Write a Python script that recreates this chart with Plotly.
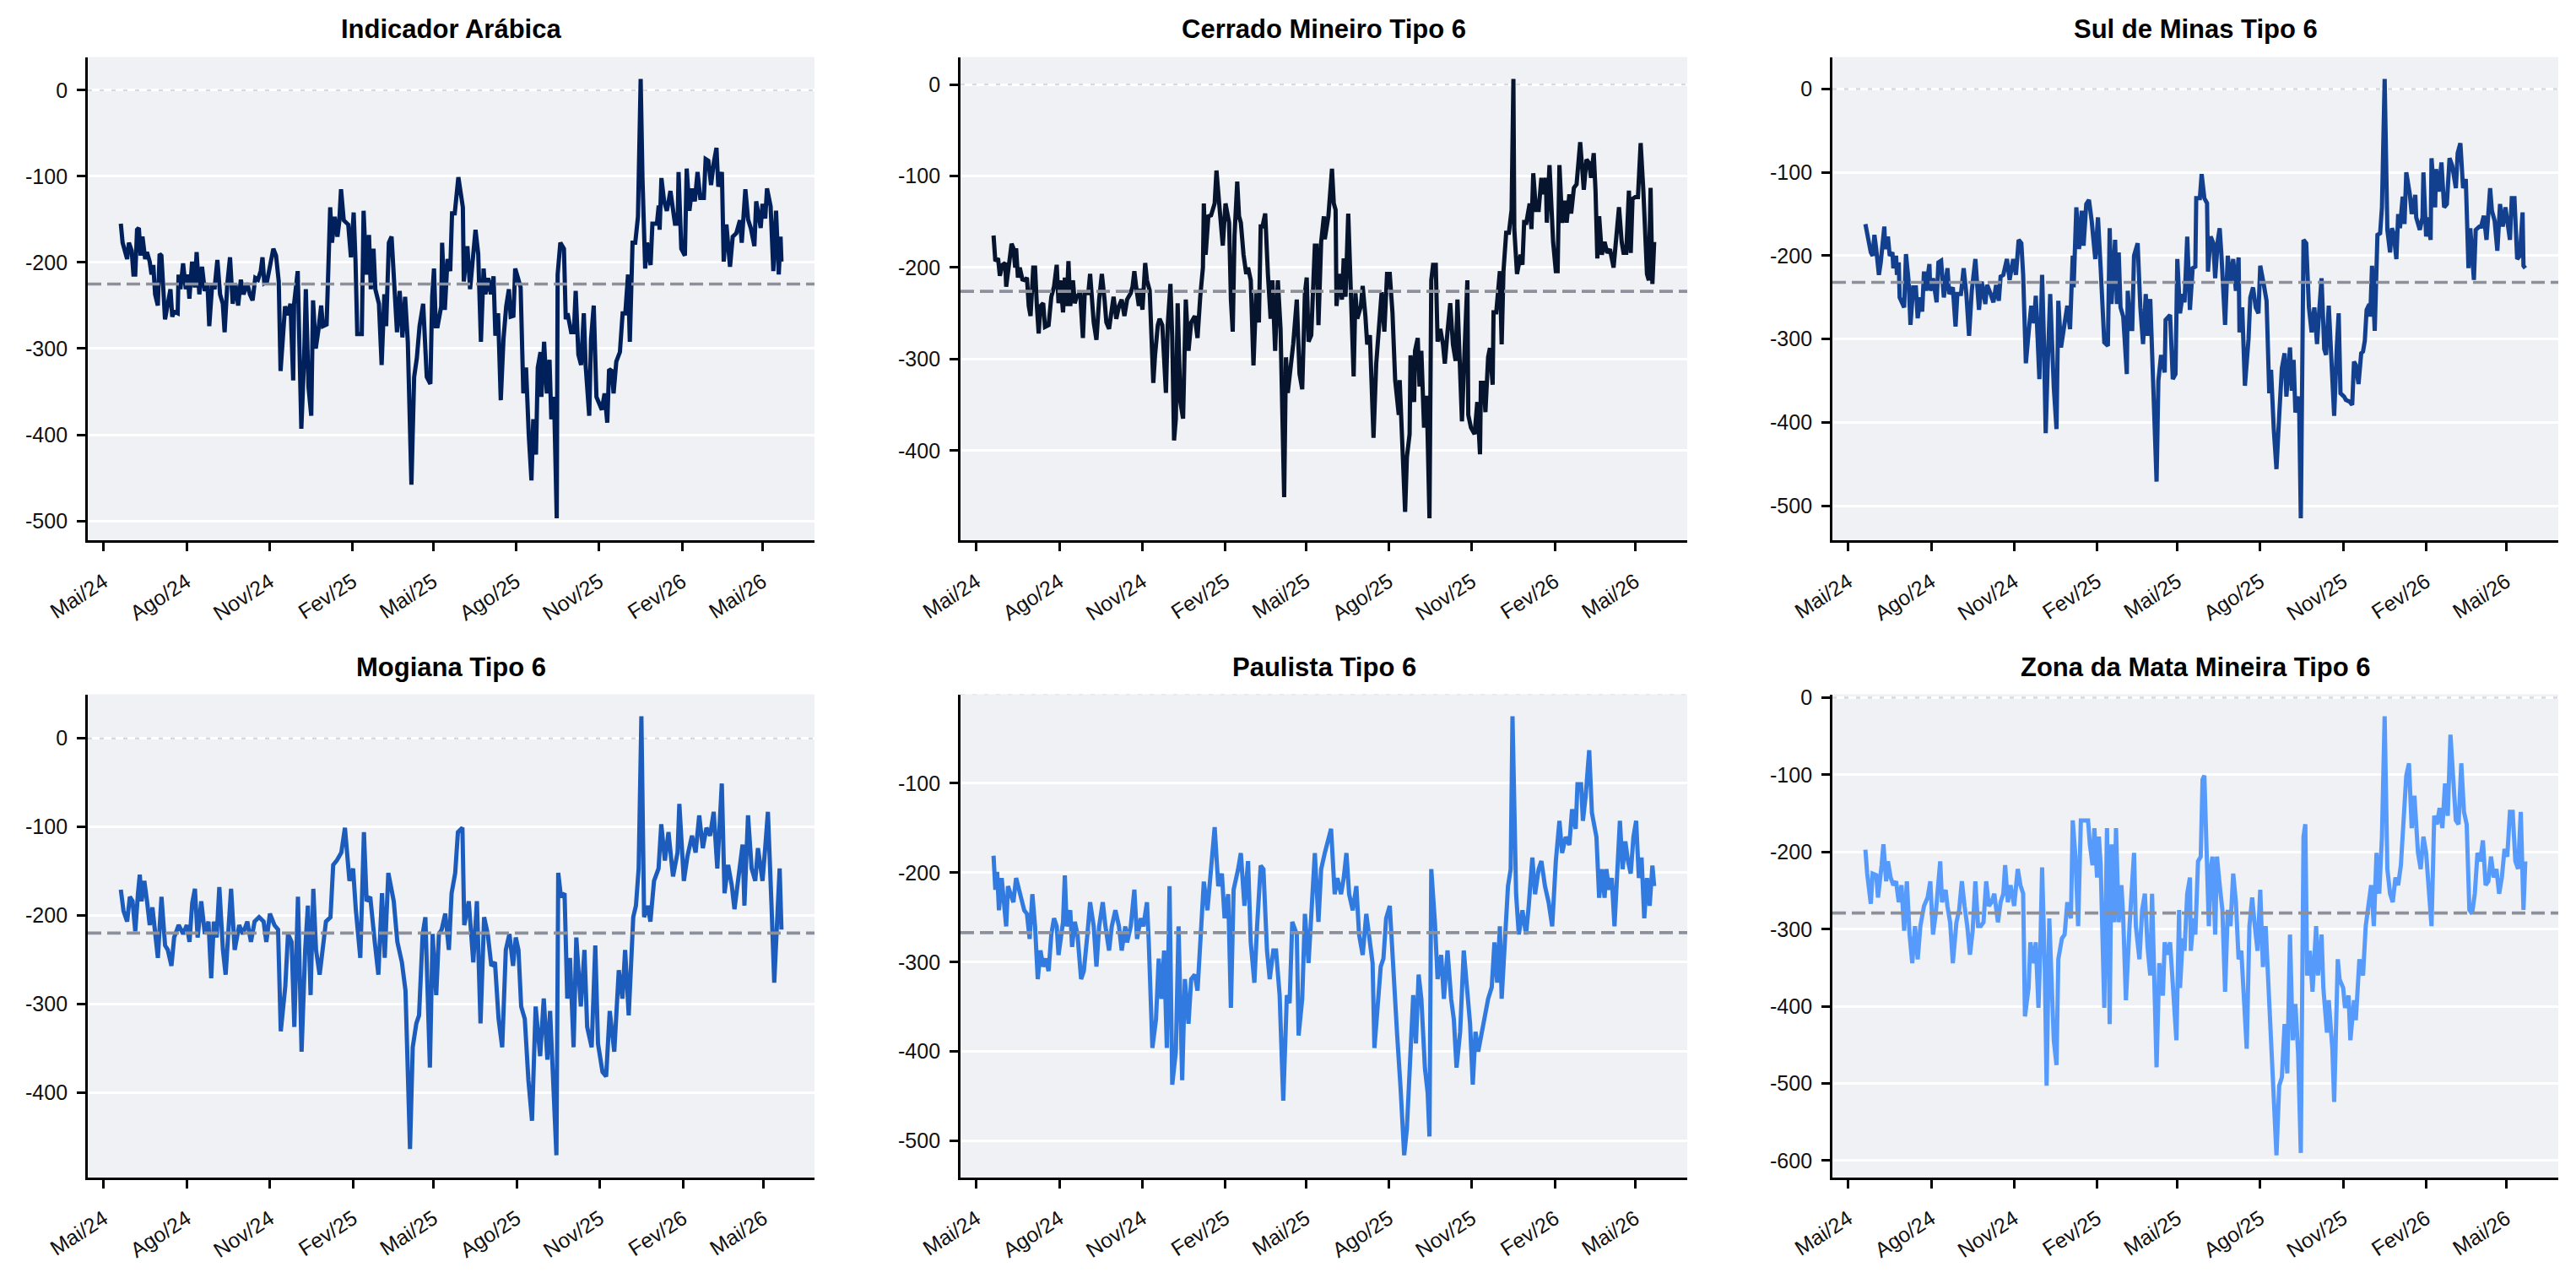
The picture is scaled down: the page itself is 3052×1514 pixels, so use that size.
import pandas as pd
import plotly.graph_objects as go

# ---------------- data ----------------
DATA_INICIO = "2024-05-20"   # first observation; series below are (days after start, value)

TITULOS = ["Indicador Arábica", "Cerrado Mineiro Tipo 6", "Sul de Minas Tipo 6",
           "Mogiana Tipo 6", "Paulista Tipo 6", "Zona da Mata Mineira Tipo 6"]
CORES = ["#00205b", "#06152d", "#12408f", "#1c5cbd", "#317adf", "#569bfb"]
MEDIAS = [-225, -226, -232, -220, -267, -279]

TICKS_X_DATAS = ["2024-05-01", "2024-08-01", "2024-11-01", "2025-02-01", "2025-05-01",
                 "2025-08-01", "2025-11-01", "2026-02-01", "2026-05-01"]
TICKS_X_ROTULOS = ["Mai/24", "Ago/24", "Nov/24", "Fev/25", "Mai/25",
                   "Ago/25", "Nov/25", "Fev/26", "Mai/26"]

INDICADOR_ARABICA = [
    (0, -155), (2, -177), (7, -196), (9, -177), (12, -186), (14, -214), (16, -214), (18, -162), (20, -160),
    (22, -192), (24, -170), (27, -196), (29, -188), (32, -199), (34, -214), (36, -203), (38, -237), (41, -250),
    (43, -190), (45, -192), (49, -266), (52, -251), (55, -231), (57, -263), (59, -257), (63, -259), (64, -214),
    (66, -231), (69, -201), (72, -231), (74, -214), (76, -242), (79, -199), (82, -229), (84, -188), (87, -237),
    (90, -205), (93, -233), (96, -224), (98, -274), (101, -229), (104, -229), (107, -197), (110, -237),
    (113, -248), (115, -281), (118, -225), (121, -194), (124, -248), (127, -225), (130, -250), (133, -220),
    (136, -237), (140, -224), (143, -237), (146, -244), (149, -218), (152, -220), (155, -210), (157, -194),
    (159, -224), (162, -222), (165, -203), (167, -192), (169, -184), (172, -192), (175, -222), (177, -326),
    (180, -289), (182, -251), (185, -261), (188, -248), (191, -337), (192, -248), (196, -210), (197, -270),
    (200, -393), (203, -315), (205, -231), (208, -345), (211, -378), (213, -244), (216, -300), (219, -278),
    (222, -250), (224, -274), (228, -272), (230, -205), (232, -136), (234, -177), (237, -147), (240, -170),
    (242, -153), (244, -115), (247, -151), (252, -156), (255, -194), (258, -142), (260, -196), (262, -283),
    (267, -283), (269, -140), (272, -214), (275, -168), (277, -231), (280, -184), (282, -231), (286, -248),
    (289, -319), (292, -237), (294, -274), (297, -177), (300, -170), (302, -207), (306, -281), (309, -233),
    (312, -287), (315, -240), (318, -292), (322, -458), (325, -333), (328, -311), (331, -274), (335, -248),
    (339, -333), (343, -341), (345, -240), (347, -207), (349, -274), (351, -274), (355, -251), (356, -177),
    (359, -255), (362, -196), (365, -210), (367, -143), (370, -143), (374, -101), (377, -125), (379, -136),
    (380, -222), (384, -181), (387, -231), (390, -190), (393, -162), (396, -190), (399, -292), (402, -207),
    (404, -237), (407, -218), (410, -237), (413, -216), (415, -285), (418, -259), (421, -360), (424, -289),
    (427, -251), (430, -231), (432, -263), (435, -262), (437, -207), (440, -218), (443, -229), (446, -352),
    (449, -322), (452, -400), (455, -453), (457, -382), (460, -423), (462, -322), (465, -304), (466, -356),
    (469, -292), (472, -352), (475, -313), (477, -382), (480, -356), (483, -497), (484, -214), (487, -177),
    (491, -184), (493, -266), (495, -259), (499, -281), (502, -281), (504, -233), (507, -307), (510, -319),
    (513, -259), (515, -319), (519, -378), (521, -289), (524, -250), (527, -356), (530, -363), (533, -371),
    (536, -352), (539, -386), (541, -324), (544, -326), (546, -352), (549, -315), (553, -304), (556, -259),
    (559, -259), (562, -214), (564, -292), (567, -177), (570, -177), (573, -147), (576, 13), (578, -102),
    (581, -207), (583, -177), (587, -203), (589, -155), (594, -155), (596, -134), (597, -162), (599, -102),
    (602, -129), (605, -140), (609, -117), (614, -155), (617, -155), (618, -95), (621, -184), (625, -192),
    (627, -91), (630, -140), (633, -114), (636, -129), (639, -95), (642, -125), (646, -125), (648, -80),
    (651, -82), (654, -110), (657, -84), (660, -67), (662, -112), (666, -95), (668, -199), (671, -156),
    (675, -205), (678, -170), (682, -166), (686, -151), (688, -177), (692, -115), (695, -150), (698, -160),
    (702, -181), (704, -129), (709, -160), (711, -132), (714, -149), (716, -114), (720, -135), (723, -210),
    (726, -140), (729, -214), (731, -170), (732, -199),
]

CERRADO_MINEIRO = [
    (0, -165), (2, -193), (5, -190), (7, -209), (10, -197), (13, -195), (14, -221), (17, -197), (20, -174),
    (22, -179), (24, -200), (25, -179), (27, -211), (29, -200), (32, -213), (35, -214), (37, -211), (39, -242),
    (41, -253), (44, -200), (46, -200), (48, -242), (50, -272), (52, -242), (55, -239), (57, -265), (61, -263),
    (64, -232), (67, -221), (70, -197), (72, -239), (74, -214), (77, -249), (79, -211), (81, -242), (83, -193),
    (85, -242), (88, -214), (90, -239), (92, -232), (96, -228), (99, -277), (101, -228), (105, -228),
    (107, -207), (111, -260), (114, -279), (117, -235), (120, -207), (123, -235), (125, -260), (128, -267),
    (131, -242), (133, -232), (136, -256), (139, -242), (142, -235), (145, -253), (148, -235), (152, -228),
    (154, -221), (156, -204), (158, -221), (161, -242), (162, -223), (165, -246), (168, -195), (170, -214),
    (173, -225), (177, -326), (179, -295), (182, -263), (184, -256), (187, -263), (191, -337), (193, -263),
    (196, -218), (198, -277), (200, -389), (202, -365), (204, -239), (207, -347), (210, -365), (213, -235),
    (216, -291), (219, -260), (223, -253), (226, -277), (229, -232), (232, -200), (233, -130), (235, -186),
    (238, -144), (241, -143), (245, -130), (247, -94), (250, -130), (252, -158), (254, -176), (257, -130),
    (261, -151), (263, -235), (265, -270), (267, -165), (270, -106), (272, -144), (274, -151), (277, -186),
    (280, -207), (282, -200), (285, -214), (288, -307), (291, -228), (294, -260), (296, -155), (298, -155),
    (301, -141), (304, -207), (307, -256), (309, -214), (312, -291), (315, -214), (318, -267), (322, -451),
    (324, -298), (326, -337), (329, -312), (332, -284), (336, -235), (339, -316), (342, -333), (345, -228),
    (347, -211), (349, -281), (352, -274), (356, -176), (358, -176), (360, -263), (363, -172), (366, -144),
    (367, -169), (371, -144), (375, -92), (377, -130), (379, -137), (380, -242), (383, -207), (386, -235),
    (388, -190), (390, -232), (393, -141), (396, -225), (399, -319), (401, -228), (403, -256), (407, -242),
    (409, -220), (412, -253), (414, -284), (417, -274), (419, -337), (421, -386), (424, -305), (427, -263),
    (430, -227), (433, -270), (436, -207), (439, -207), (442, -249), (445, -323), (449, -361), (450, -323),
    (453, -411), (456, -467), (458, -407), (461, -382), (462, -296), (466, -347), (467, -291), (470, -277),
    (472, -330), (474, -291), (477, -375), (480, -340), (483, -474), (485, -214), (487, -197), (490, -197),
    (492, -281), (495, -267), (498, -284), (500, -305), (503, -270), (506, -239), (509, -284), (512, -302),
    (514, -235), (516, -291), (519, -368), (522, -288), (525, -214), (526, -361), (529, -375), (533, -382),
    (536, -347), (539, -404), (540, -326), (543, -326), (545, -358), (548, -298), (550, -288), (553, -328),
    (554, -249), (557, -249), (561, -204), (563, -284), (565, -204), (568, -162), (571, -162), (574, -137),
    (576, 6), (577, -158), (580, -207), (584, -186), (586, -197), (588, -148), (590, -153), (594, -130),
    (596, -158), (598, -97), (601, -137), (604, -137), (607, -102), (609, -120), (612, -102), (613, -151),
    (616, -88), (620, -172), (623, -204), (625, -204), (627, -88), (630, -151), (633, -127), (635, -151),
    (638, -120), (640, -141), (643, -113), (646, -109), (650, -63), (654, -115), (657, -82), (660, -86),
    (662, -102), (665, -75), (667, -116), (669, -190), (671, -144), (674, -186), (677, -172), (680, -184),
    (683, -180), (687, -200), (690, -172), (693, -134), (696, -172), (698, -184), (701, -184), (704, -116),
    (706, -184), (708, -125), (711, -123), (714, -123), (717, -64), (720, -116), (724, -207), (726, -214),
    (728, -113), (730, -218), (732, -172),
]

SUL_DE_MINAS = [
    (0, -162), (3, -181), (6, -196), (8, -200), (10, -175), (12, -192), (15, -223), (17, -208), (21, -165),
    (22, -192), (25, -177), (27, -200), (30, -196), (31, -215), (34, -200), (35, -223), (37, -208), (38, -250),
    (41, -258), (43, -262), (45, -198), (48, -231), (50, -283), (53, -238), (56, -238), (58, -275), (61, -250),
    (63, -267), (65, -219), (67, -242), (71, -210), (72, -242), (75, -227), (79, -256), (81, -208), (84, -206),
    (87, -250), (91, -215), (93, -246), (97, -238), (100, -285), (102, -246), (106, -246), (109, -215),
    (112, -246), (115, -296), (118, -242), (122, -204), (126, -265), (129, -231), (133, -258), (135, -235),
    (139, -246), (142, -256), (145, -235), (148, -254), (150, -225), (153, -223), (157, -204), (160, -229),
    (164, -204), (167, -223), (170, -181), (173, -185), (175, -223), (178, -329), (182, -281), (184, -260),
    (187, -281), (189, -248), (193, -348), (195, -246), (196, -223), (198, -300), (200, -413), (202, -338),
    (205, -246), (209, -358), (212, -408), (214, -254), (217, -310), (221, -281), (224, -260), (227, -288),
    (230, -200), (231, -238), (234, -142), (237, -192), (240, -146), (242, -188), (245, -138), (248, -133),
    (251, -158), (255, -204), (258, -154), (261, -215), (265, -304), (269, -308), (271, -167), (273, -258),
    (277, -181), (279, -258), (281, -196), (283, -262), (286, -273), (290, -342), (291, -242), (294, -288),
    (296, -288), (298, -200), (302, -185), (305, -262), (308, -306), (311, -246), (313, -296), (316, -252),
    (318, -308), (323, -471), (325, -350), (328, -319), (332, -340), (333, -277), (338, -271), (341, -348),
    (344, -342), (346, -204), (349, -269), (352, -246), (354, -256), (357, -177), (360, -265), (363, -215),
    (366, -213), (367, -131), (371, -131), (373, -102), (376, -131), (379, -137), (380, -219), (383, -177),
    (386, -185), (388, -227), (391, -181), (393, -167), (395, -200), (399, -283), (402, -200), (405, -231),
    (408, -204), (411, -242), (414, -202), (415, -292), (418, -262), (421, -356), (425, -300), (427, -250),
    (430, -238), (433, -262), (436, -269), (438, -212), (442, -235), (445, -254), (448, -365), (450, -337),
    (453, -408), (456, -456), (459, -392), (462, -335), (465, -317), (467, -369), (471, -310), (473, -362),
    (475, -325), (477, -388), (481, -369), (483, -515), (486, -181), (489, -185), (492, -262), (495, -292),
    (498, -262), (501, -306), (503, -273), (506, -227), (509, -312), (511, -319), (514, -260), (517, -323),
    (520, -392), (523, -308), (525, -269), (527, -365), (531, -369), (533, -373), (537, -375), (540, -379),
    (542, -327), (544, -331), (547, -354), (550, -317), (552, -315), (554, -302), (556, -265), (559, -258),
    (560, -273), (562, -212), (565, -290), (568, -175), (571, -173), (573, -142), (576, 12), (579, -169),
    (582, -196), (584, -167), (586, -173), (589, -204), (591, -150), (593, -167), (596, -129), (598, -162),
    (600, -100), (604, -127), (606, -150), (610, -127), (611, -154), (615, -169), (618, -154), (619, -100),
    (622, -177), (624, -154), (627, -181), (628, -83), (632, -142), (633, -96), (636, -123), (639, -88),
    (642, -142), (645, -138), (648, -83), (651, -92), (655, -119), (657, -77), (660, -65), (663, -119),
    (666, -108), (669, -215), (671, -167), (675, -229), (677, -169), (681, -165), (683, -165), (686, -152),
    (689, -181), (693, -119), (695, -146), (698, -158), (701, -194), (704, -138), (707, -165), (710, -142),
    (713, -162), (715, -181), (717, -131), (720, -131), (723, -204), (726, -200), (729, -148), (730, -212),
    (732, -215),
]

MOGIANA = [
    (0, -171), (3, -195), (7, -207), (10, -179), (13, -184), (16, -218), (19, -175), (21, -154), (23, -184),
    (26, -161), (29, -184), (32, -211), (35, -191), (39, -230), (41, -248), (45, -179), (49, -234), (52, -239),
    (56, -257), (59, -225), (64, -211), (69, -221), (73, -211), (76, -230), (79, -186), (82, -170), (85, -225),
    (89, -184), (93, -221), (97, -207), (100, -271), (103, -207), (106, -225), (109, -168), (113, -239),
    (116, -267), (120, -207), (122, -170), (126, -239), (131, -211), (135, -221), (140, -207), (144, -230),
    (148, -207), (153, -202), (158, -207), (161, -230), (165, -198), (170, -211), (174, -216), (177, -331),
    (182, -280), (185, -221), (189, -230), (192, -326), (196, -179), (200, -354), (204, -239), (207, -189),
    (210, -290), (213, -170), (216, -239), (220, -267), (223, -239), (227, -207), (232, -202), (235, -143),
    (239, -138), (244, -129), (248, -101), (253, -161), (257, -147), (260, -193), (265, -248), (269, -106),
    (272, -184), (276, -179), (281, -230), (285, -267), (289, -175), (292, -248), (296, -152), (302, -184),
    (306, -230), (311, -253), (315, -285), (320, -464), (323, -349), (327, -322), (330, -313), (334, -221),
    (337, -202), (342, -372), (345, -221), (349, -290), (352, -221), (355, -216), (359, -198), (363, -239),
    (366, -175), (370, -152), (373, -106), (378, -101), (380, -211), (385, -184), (390, -253), (394, -184),
    (398, -322), (402, -202), (406, -221), (410, -257), (414, -253), (418, -317), (422, -349), (426, -239),
    (430, -221), (434, -257), (437, -225), (440, -239), (443, -303), (447, -317), (451, -386), (455, -432),
    (459, -303), (464, -359), (468, -294), (472, -363), (475, -308), (478, -372), (482, -471), (484, -152),
    (487, -179), (491, -175), (494, -294), (497, -248), (501, -349), (504, -225), (509, -303), (513, -239),
    (516, -326), (521, -349), (525, -234), (528, -345), (533, -377), (537, -382), (541, -308), (546, -354),
    (551, -262), (555, -294), (558, -239), (562, -313), (567, -202), (570, -189), (573, -147), (576, 25),
    (579, -202), (583, -189), (586, -207), (590, -161), (595, -147), (598, -97), (602, -138), (606, -106),
    (611, -156), (616, -129), (618, -74), (623, -161), (627, -133), (632, -110), (636, -129), (640, -87),
    (644, -124), (648, -101), (652, -110), (656, -83), (660, -147), (665, -51), (668, -175), (672, -143),
    (676, -166), (679, -193), (684, -156), (688, -120), (690, -189), (694, -87), (698, -147), (702, -161),
    (705, -124), (710, -161), (713, -124), (716, -83), (720, -189), (723, -276), (726, -211), (729, -147),
    (731, -216),
]

PAULISTA = [
    (0, -181), (2, -219), (4, -199), (6, -242), (9, -206), (11, -233), (14, -260), (16, -215), (19, -224),
    (22, -233), (25, -206), (28, -217), (31, -228), (34, -242), (37, -246), (40, -274), (43, -224), (46, -260),
    (49, -319), (52, -287), (55, -305), (58, -296), (61, -310), (64, -269), (67, -251), (70, -260), (72, -292),
    (77, -255), (79, -203), (81, -260), (85, -242), (87, -283), (90, -255), (93, -269), (97, -319), (100, -310),
    (104, -269), (107, -233), (111, -260), (114, -305), (117, -260), (121, -233), (124, -260), (128, -287),
    (131, -260), (135, -242), (139, -260), (142, -287), (146, -260), (148, -278), (152, -260), (156, -219),
    (159, -274), (163, -251), (166, -260), (170, -233), (172, -278), (176, -396), (180, -364), (183, -296),
    (186, -341), (189, -287), (192, -396), (195, -215), (198, -437), (202, -400), (205, -260), (209, -432),
    (212, -319), (216, -369), (219, -319), (223, -314), (226, -332), (230, -260), (233, -210), (237, -242),
    (241, -196), (245, -149), (249, -215), (253, -201), (256, -251), (260, -224), (263, -351), (266, -219),
    (271, -196), (274, -178), (278, -237), (282, -187), (285, -278), (289, -323), (292, -260), (296, -192),
    (299, -196), (303, -287), (306, -319), (310, -287), (313, -287), (317, -337), (321, -455), (325, -337),
    (328, -346), (331, -255), (336, -269), (338, -382), (342, -341), (345, -246), (349, -301), (353, -233),
    (356, -178), (360, -255), (363, -196), (367, -178), (371, -160), (374, -151), (378, -224), (381, -206),
    (385, -224), (388, -206), (391, -178), (394, -224), (398, -242), (402, -215), (405, -269), (409, -292),
    (413, -246), (416, -269), (420, -301), (422, -396), (425, -351), (429, -305), (432, -296), (435, -251),
    (439, -237), (442, -296), (445, -332), (447, -378), (451, -441), (455, -516), (458, -486), (461, -428),
    (465, -337), (468, -391), (471, -314), (474, -341), (478, -419), (481, -446), (483, -495), (485, -196),
    (489, -255), (492, -319), (496, -292), (499, -341), (503, -287), (507, -341), (510, -364), (513, -418),
    (517, -378), (521, -287), (524, -328), (528, -369), (531, -437), (534, -378), (537, -400), (541, -378),
    (545, -360), (548, -341), (552, -328), (555, -278), (558, -323), (561, -260), (563, -341), (567, -260),
    (570, -215), (573, -196), (575, -25), (579, -224), (582, -269), (586, -242), (590, -269), (593, -237),
    (597, -183), (600, -224), (604, -196), (607, -187), (611, -215), (615, -233), (617, -251), (619, -260),
    (623, -187), (627, -142), (630, -178), (634, -160), (638, -169), (641, -129), (645, -151), (647, -101),
    (651, -101), (653, -142), (656, -115), (660, -63), (663, -133), (668, -160), (671, -228), (674, -196),
    (677, -228), (679, -196), (682, -219), (685, -206), (688, -260), (691, -187), (694, -142), (697, -196),
    (700, -165), (703, -187), (706, -201), (709, -160), (712, -142), (715, -206), (718, -183), (721, -251),
    (724, -206), (727, -237), (730, -192), (732, -215),
]

ZONA_DA_MATA = [
    (0, -197), (2, -228), (6, -267), (8, -228), (12, -230), (14, -259), (18, -217), (20, -190), (23, -238),
    (25, -212), (28, -233), (31, -243), (34, -238), (37, -265), (40, -243), (43, -302), (46, -238), (49, -307),
    (52, -344), (55, -296), (58, -339), (61, -296), (65, -270), (69, -259), (72, -238), (75, -307), (78, -280),
    (81, -243), (83, -212), (85, -265), (89, -249), (91, -270), (94, -291), (97, -344), (101, -291),
    (104, -275), (107, -238), (110, -270), (113, -296), (116, -333), (119, -302), (122, -238), (125, -296),
    (128, -296), (131, -291), (134, -238), (137, -270), (140, -265), (143, -254), (147, -291), (150, -265),
    (153, -254), (155, -217), (158, -265), (161, -243), (165, -270), (169, -222), (172, -243), (175, -254),
    (177, -413), (181, -376), (183, -317), (187, -344), (189, -317), (192, -402), (194, -328), (196, -220),
    (199, -349), (201, -503), (204, -286), (206, -344), (209, -444), (212, -476), (214, -339), (218, -312),
    (221, -307), (224, -265), (228, -286), (230, -159), (233, -206), (236, -296), (239, -159), (243, -159),
    (247, -159), (249, -190), (252, -217), (254, -169), (257, -233), (259, -180), (261, -217), (265, -402),
    (268, -169), (271, -423), (273, -190), (276, -291), (278, -169), (281, -291), (284, -243), (286, -286),
    (289, -392), (293, -296), (298, -201), (300, -296), (304, -339), (307, -275), (310, -254), (313, -323),
    (316, -360), (318, -254), (320, -328), (323, -479), (326, -344), (330, -386), (332, -317), (335, -333),
    (338, -317), (342, -402), (345, -444), (348, -275), (349, -376), (352, -312), (354, -328), (357, -254),
    (360, -233), (361, -328), (364, -286), (366, -307), (369, -212), (372, -206), (374, -106), (376, -101),
    (378, -190), (381, -296), (383, -222), (385, -206), (388, -307), (390, -206), (393, -243), (396, -275),
    (399, -381), (402, -275), (405, -296), (408, -228), (411, -265), (414, -339), (417, -328), (420, -402),
    (423, -455), (426, -296), (429, -259), (432, -296), (435, -328), (438, -249), (441, -349), (444, -296),
    (447, -370), (450, -418), (453, -497), (456, -593), (459, -503), (462, -492), (465, -423), (468, -487),
    (471, -307), (474, -444), (477, -397), (480, -460), (483, -590), (486, -180), (488, -164), (490, -360),
    (493, -328), (496, -381), (500, -296), (502, -360), (506, -307), (508, -376), (512, -434), (514, -392),
    (518, -455), (520, -524), (524, -339), (526, -365), (530, -376), (532, -402), (536, -386), (538, -444),
    (542, -392), (544, -418), (548, -339), (552, -360), (555, -296), (558, -270), (561, -243), (564, -296),
    (567, -201), (570, -254), (573, -180), (576, -24), (579, -222), (582, -254), (585, -265), (588, -233),
    (591, -243), (594, -217), (597, -159), (600, -101), (603, -85), (606, -169), (609, -127), (613, -201),
    (616, -222), (619, -180), (622, -201), (625, -243), (628, -296), (631, -153), (634, -164), (637, -143),
    (640, -169), (643, -111), (646, -153), (649, -48), (652, -101), (655, -159), (658, -164), (661, -85),
    (664, -148), (667, -164), (670, -275), (673, -280), (676, -254), (679, -201), (682, -212), (685, -185),
    (688, -243), (691, -238), (694, -206), (697, -233), (700, -222), (703, -254), (706, -233), (709, -196),
    (712, -206), (715, -148), (718, -148), (721, -212), (724, -222), (727, -148), (730, -275), (732, -212),
]

SERIES = [INDICADOR_ARABICA, CERRADO_MINEIRO, SUL_DE_MINAS, MOGIANA, PAULISTA, ZONA_DA_MATA]

# ---------------- layout geometry (pixels of a 3052 x 1514 page) ----------------
W, H = 3052, 1514
COLS_PX = [(104, 965), (1138, 1999), (2171, 3031)]
ROWS_PX = [(67.6, 640.0), (822.5, 1394.6)]
TITLE_Y_PX = [35, 790]

FONT = "Liberation Sans, Arial, Helvetica, sans-serif"
BG = "#eff1f5"

fig = go.Figure()
inicio = pd.Timestamp(DATA_INICIO)
annotations = []

for i, (serie, titulo, cor, media) in enumerate(zip(SERIES, TITULOS, CORES, MEDIAS)):
    r, c = divmod(i, 3)
    n = i + 1
    xs = "x" if n == 1 else f"x{n}"
    ys = "y" if n == 1 else f"y{n}"
    dias = [d for d, _ in serie]
    vals = [v for _, v in serie]
    datas = [inicio + pd.Timedelta(days=d) for d in dias]

    # axis ranges: matplotlib-like 5% margins
    x0, x1 = min(datas), max(datas)
    padx = (x1 - x0) * 0.05
    xr = [x0 - padx, x1 + padx]
    ymin, ymax = min(vals), max(vals)
    pady = (ymax - ymin) * 0.05
    y_lo, y_hi = ymin - pady, ymax + pady
    yticks = [v for v in range(-1000, 200, 100) if y_lo <= v <= y_hi]

    # faint dotted zero reference line (below the series)
    fig.add_trace(go.Scatter(x=xr, y=[0, 0], mode="lines",
                             line=dict(color="#d6d9df", width=2.4, dash="5px,9px"),
                             xaxis=xs, yaxis=ys, showlegend=False, hoverinfo="skip"))
    # series
    fig.add_trace(go.Scatter(x=datas, y=vals, mode="lines",
                             line=dict(color=cor, width=5.0),
                             xaxis=xs, yaxis=ys, showlegend=False, hoverinfo="skip"))
    # mean line
    fig.add_trace(go.Scatter(x=xr, y=[media, media], mode="lines",
                             line=dict(color="#8c909b", width=3.6, dash="16px,7px"),
                             xaxis=xs, yaxis=ys, showlegend=False, hoverinfo="skip"))

    cx0, cx1 = COLS_PX[c]
    ry0, ry1 = ROWS_PX[r]
    xdom = [cx0 / W, cx1 / W]
    ydom = [1 - ry1 / H, 1 - ry0 / H]

    fig.layout[f"xaxis{'' if n == 1 else n}"] = dict(
        domain=xdom, anchor=ys, type="date", range=xr, automargin=False,
        tickmode="array", tickvals=TICKS_X_DATAS, ticktext=TICKS_X_ROTULOS,
        tickangle=-33, showgrid=False, zeroline=False,
        showline=True, linecolor="black", linewidth=2.8,
        ticks="outside", ticklen=10, tickwidth=2.6, tickcolor="black",
        ticklabelstandoff=12,
        tickfont=dict(family=FONT, size=25, color="#111111"),
    )
    fig.layout[f"yaxis{'' if n == 1 else n}"] = dict(
        domain=ydom, anchor=xs, range=[y_lo, y_hi], automargin=False,
        tickmode="array", tickvals=yticks, ticktext=[str(v) for v in yticks],
        showgrid=True, gridcolor="white", gridwidth=2.6, zeroline=False,
        showline=True, linecolor="black", linewidth=2.8,
        ticks="outside", ticklen=10, tickwidth=2.6, tickcolor="black",
        ticklabelstandoff=6,
        tickfont=dict(family=FONT, size=25, color="#111111"),
    )

    annotations.append(dict(text=f"<b>{titulo}</b>", xref="paper", yref="paper",
                            x=(xdom[0] + xdom[1]) / 2, y=1 - TITLE_Y_PX[r] / H,
                            xanchor="center", yanchor="middle", showarrow=False,
                            font=dict(family=FONT, size=31, color="black")))

fig.update_layout(
    width=W, height=H,
    margin=dict(l=0, r=0, t=0, b=0, autoexpand=False),
    paper_bgcolor="white", plot_bgcolor=BG,
    annotations=annotations,
    showlegend=False,
)

fig.write_html("out.html")
